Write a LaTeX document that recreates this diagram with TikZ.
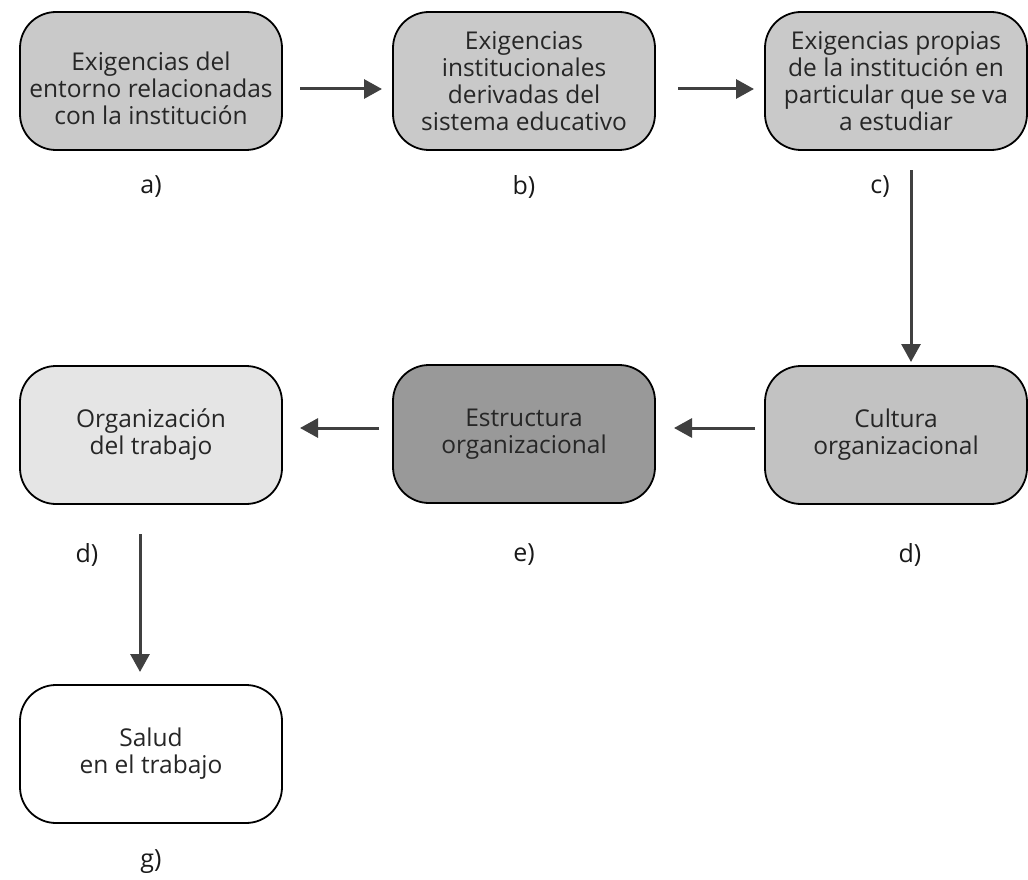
\documentclass[tikz,border=0pt]{standalone}
\usepackage{fontspec}
\setmainfont{Open Sans}
\usetikzlibrary{arrows.meta}
\definecolor{boxlight}{gray}{0.79}
\definecolor{boxcult}{gray}{0.76}
\definecolor{boxdark}{gray}{0.60}
\definecolor{boxpale}{gray}{0.90}
\definecolor{linegray}{gray}{0.25}
\begin{document}
\begin{tikzpicture}[x=1pt,y=-1pt,
  stage/.style={draw=black, line width=1.8pt, rounded corners=36pt,
    minimum width=262pt, minimum height=138pt, align=center,
    inner sep=2pt, font=\fontsize{24.5}{27}\selectfont, text=black!85},
  stagetext/.style={align=center, inner sep=0pt,
    font=\fontsize{24.5}{27}\selectfont, text=black!85},
  tag/.style={font=\fontsize{25}{27}\selectfont, text=black!90},
  flow/.style={draw=linegray, line width=3pt,
    -{Triangle[length=18pt,width=19pt]}}]
\useasboundingbox (0,0) rectangle (1028,880);

% top row
\node[stage, fill=boxlight] (a) at (151,81) {};
\node[stagetext] (at) at (151,88)
  {Exigencias del\\entorno relacionadas\\con la institución};
\node[stage, fill=boxlight] (b) at (524,81)
  {Exigencias\\institucionales\\derivadas del\\sistema educativo};
\node[stage, fill=boxlight] (c) at (896,81)
  {Exigencias propias\\de la institución en\\particular que se va\\a estudiar};

% middle row
\node[stage, fill=boxcult] (d) at (896,435) {Cultura\\organizacional};
\node[stage, fill=boxdark] (e) at (524,434) {Estructura\\organizacional};
\node[stage, fill=boxpale] (f) at (151,435) {Organización\\del trabajo};

% bottom
\node[stage, fill=white] (g) at (151,754) {Salud\\en el trabajo};

% labels
\node[tag] (la) at (151,187) {a)};
\node[tag] (lb) at (524,187) {b)};
\node[tag] (lc) at (880,187) {c)};
\node[tag] (ld) at (910,555) {d)};
\node[tag] (le) at (524,555) {e)};
\node[tag] (lf) at (87,555) {d)};
\node[tag] (lg) at (151,862) {g)};

% connectors
\coordinate (p1) at (300,89);  \coordinate (p2) at (382,89);
\coordinate (p3) at (678,89);  \coordinate (p4) at (754,89);
\coordinate (p5) at (911,170); \coordinate (p6) at (911,362);
\coordinate (p7) at (755,428); \coordinate (p8) at (674,428);
\coordinate (p9) at (379,428); \coordinate (p10) at (300,428);
\coordinate (p11) at (140,534); \coordinate (p12) at (140,672);
\draw[flow] (p1) -- (p2);
\draw[flow] (p3) -- (p4);
\draw[flow] (p5) -- (p6);
\draw[flow] (p7) -- (p8);
\draw[flow] (p9) -- (p10);
\draw[flow] (p11) -- (p12);
\end{tikzpicture}
\end{document}
